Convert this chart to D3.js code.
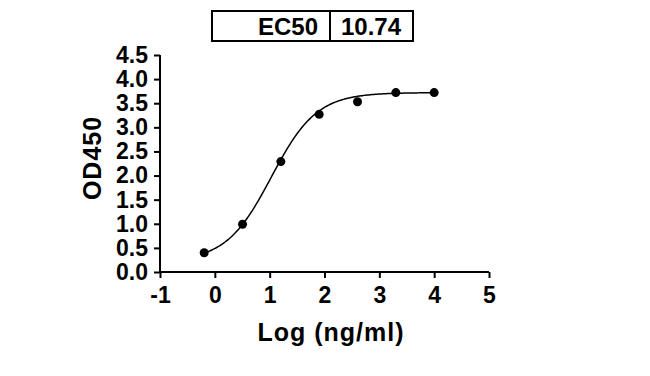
<!DOCTYPE html>
<html>
<head>
<meta charset="utf-8">
<script src="https://cdn.jsdelivr.net/npm/d3@7"></script>
<style>
  body { margin: 0; background: #fff; }
  text { font-family: "Liberation Sans", Arial, sans-serif; font-weight: bold; fill: #000; }
</style>
</head>
<body>
<div id="chart"></div>
<script>
// measured points, log10 of concentration vs OD450
var logConc = [-0.194, 0.505, 1.204, 1.903, 2.602, 3.301, 4.0]
var od450 = [0.40, 0.99, 2.29, 3.27, 3.53, 3.72, 3.72]
var xTicks = [-1, 0, 1, 2, 3, 4, 5]
var yTicks = [0, 0.5, 1, 1.5, 2, 2.5, 3, 3.5, 4, 4.5]
// 4PL fit shown in the picture
var fitBottom = 0.22, fitTop = 3.72, fitHill = 1.05
var ec50 = 10.74

var figw = 650, figh = 376
var margin = {left: 160, right: 161, top: 55, bottom: 104}
var width = figw - margin.left - margin.right,
    height = figh - margin.top - margin.bottom

var svg = d3.select("#chart").append("svg")
    .attr("width", figw)
    .attr("height", figh)

var g = svg.append("g")
    .attr("transform", "translate(" + margin.left + "," + margin.top + ")")

var x = d3.scaleLinear().domain([-1, 5]).range([0, width])
var y = d3.scaleLinear().domain([0, 4.5]).range([height, 0])

// axes
var xAxis = g.append("g")
    .attr("transform", "translate(0," + height + ")")
    .call(d3.axisBottom(x).tickValues(xTicks).tickSize(6).tickPadding(5).tickFormat(function(d) { return String(d) }))
var yAxis = g.append("g")
    .call(d3.axisLeft(y).tickValues(yTicks).tickSize(6).tickPadding(6).tickFormat(d3.format(".1f")))

;[xAxis, yAxis].forEach(function(a) {
  a.select(".domain").attr("stroke", "#000").attr("stroke-width", 2)
  a.selectAll(".tick line").attr("stroke", "#000").attr("stroke-width", 2)
  a.selectAll(".tick text").style("font-size", "23px").style("font-family", null).attr("fill", "#000")
})
// no outer tick caps
xAxis.select(".domain").attr("d", "M0,0H" + width)
yAxis.select(".domain").attr("d", "M0," + height + "V0")
xAxis.selectAll(".tick text").attr("dy", "0.85em")

// fitted curve
var logEC50 = Math.log10(ec50)
var fit = function(v) { return fitBottom + (fitTop - fitBottom) / (1 + Math.pow(10, (logEC50 - v) * fitHill)) }
var curveX = d3.range(logConc[0], logConc[logConc.length - 1] + 0.001, 0.02)
g.append("path")
    .datum(curveX)
    .attr("fill", "none")
    .attr("stroke", "#000")
    .attr("stroke-width", 1.5)
    .attr("d", d3.line().x(function(d) { return x(d) }).y(function(d) { return y(fit(d)) }))

// dots
g.append("g").selectAll("circle")
    .data(logConc)
    .enter().append("circle")
      .attr("cx", function(d) { return x(d) })
      .attr("cy", function(d, i) { return y(od450[i]) })
      .attr("r", 4.5)
      .attr("fill", "#000")

// axis titles
svg.append("text")
    .attr("x", 331).attr("y", 341)
    .attr("text-anchor", "middle")
    .style("font-size", "25px")
    .style("letter-spacing", "1px")
    .text("Log (ng/ml)")

svg.append("text")
    .attr("transform", "translate(101,158) rotate(-90)")
    .attr("text-anchor", "middle")
    .style("font-size", "25px")
    .style("letter-spacing", "1px")
    .text("OD450")

// EC50 box
var box = svg.append("g")
box.append("rect")
    .attr("x", 212).attr("y", 11).attr("width", 201).attr("height", 30)
    .attr("fill", "none").attr("stroke", "#000").attr("stroke-width", 2)
box.append("line")
    .attr("x1", 330).attr("x2", 330).attr("y1", 11).attr("y2", 41)
    .attr("stroke", "#000").attr("stroke-width", 2)
box.append("text")
    .attr("x", 318).attr("y", 35)
    .attr("text-anchor", "end")
    .style("font-size", "24px")
    .text("EC50")
box.append("text")
    .attr("x", 371).attr("y", 35)
    .attr("text-anchor", "middle")
    .style("font-size", "24px")
    .text(ec50.toFixed(2))
</script>
</body>
</html>
